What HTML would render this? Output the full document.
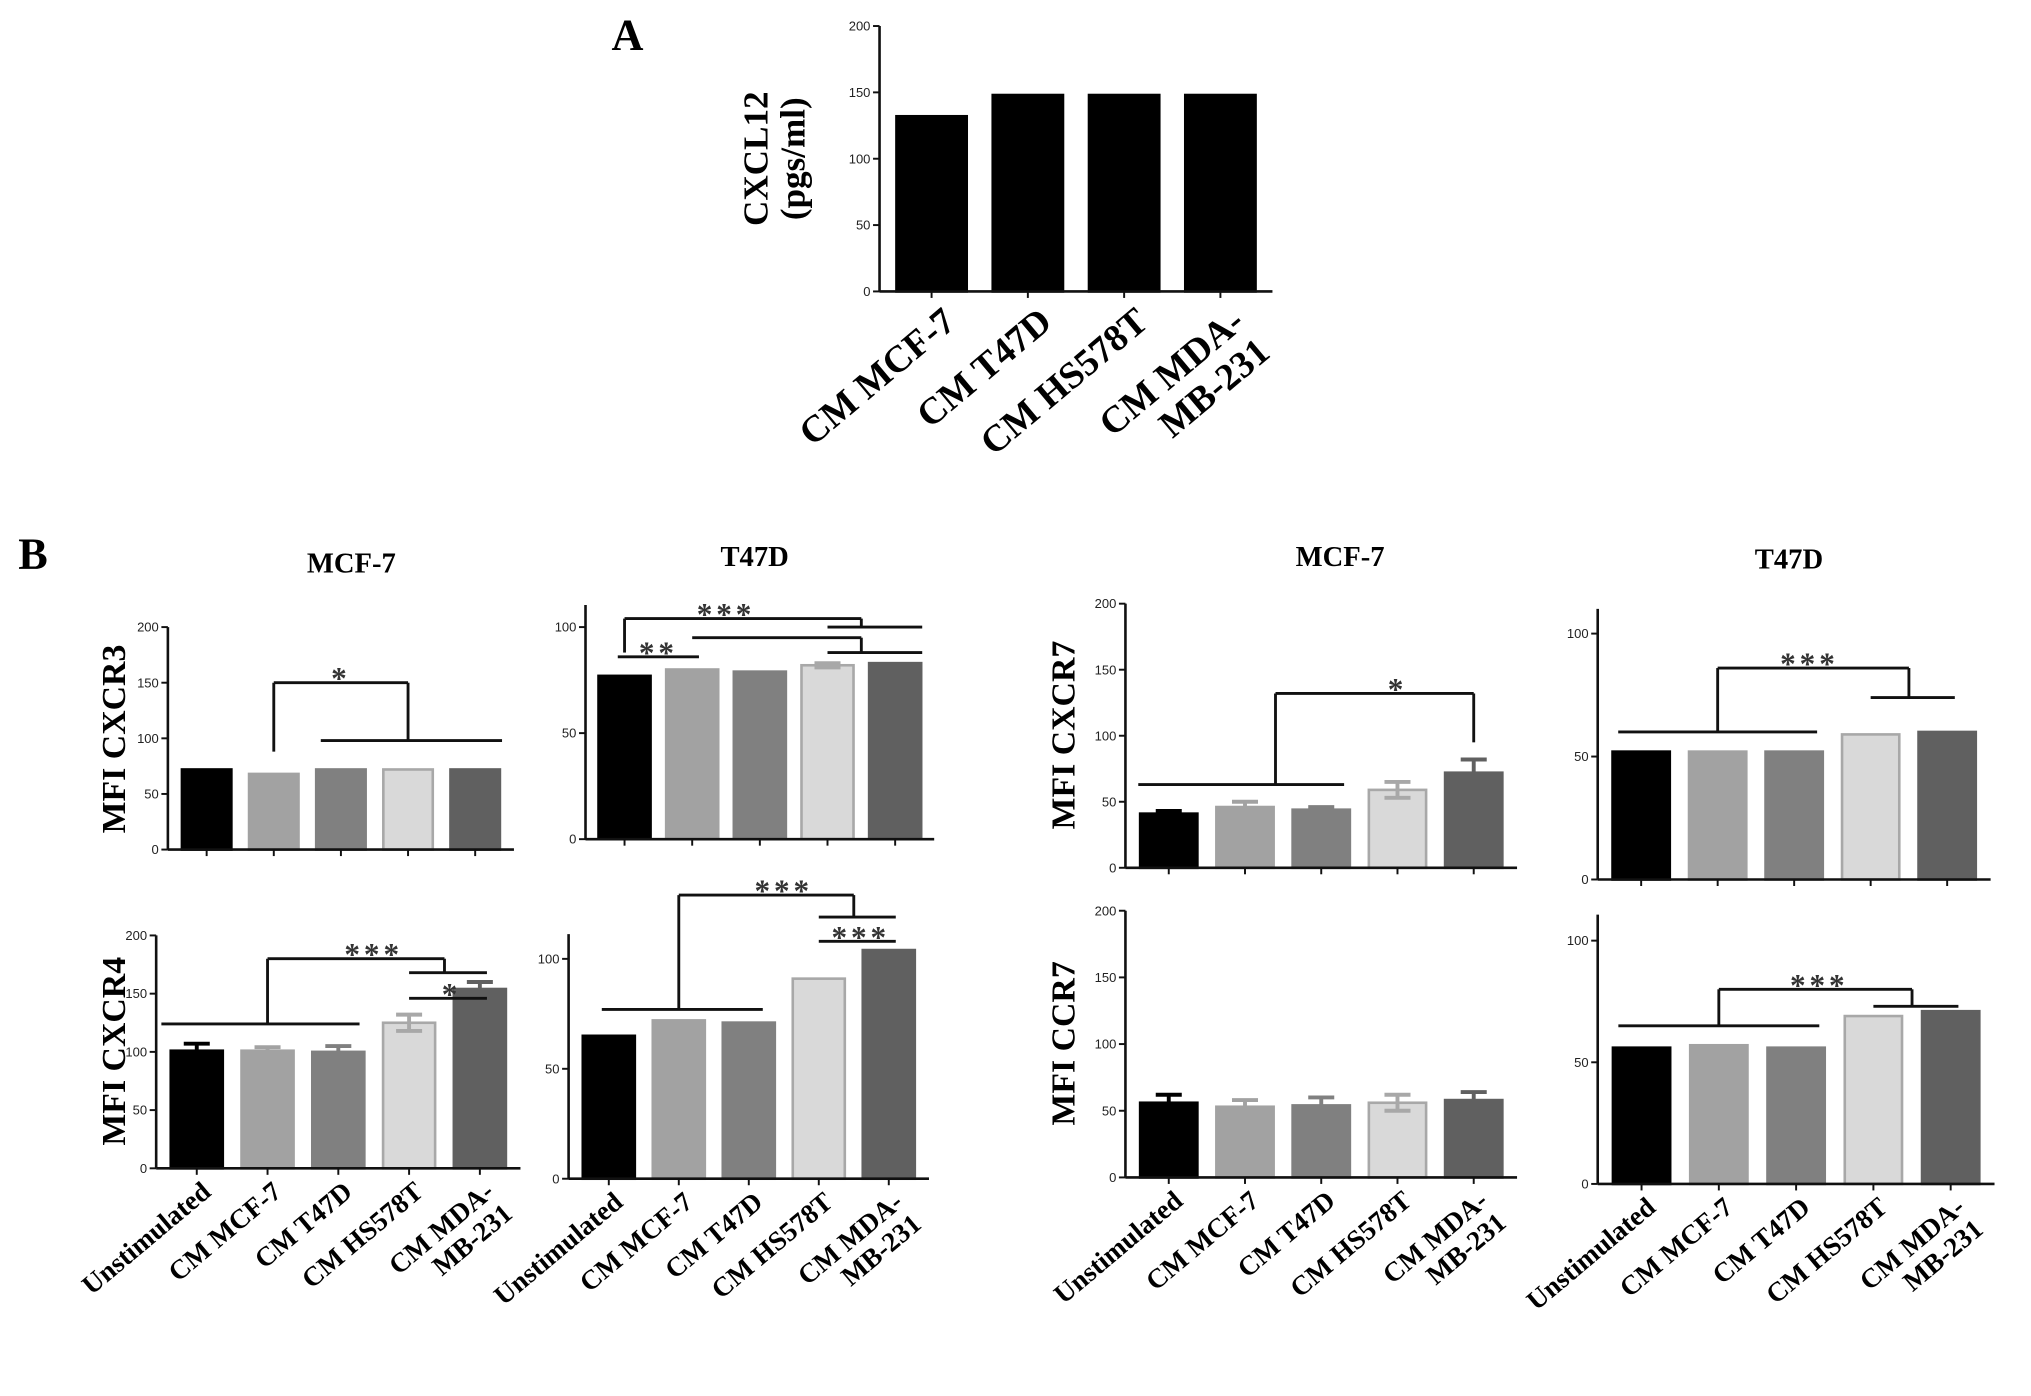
<!DOCTYPE html>
<html><head><meta charset="utf-8"><style>
html,body{margin:0;padding:0;background:#fff;}
svg{display:block;}
text{font-family:"Liberation Serif",serif;font-weight:bold;}
.tk{font-family:"Liberation Sans",sans-serif;font-weight:normal;font-size:10px;fill:#222;}
</style></head><body>
<svg id="fig" width="2031" height="1396" viewBox="0 0 1561 1073" xmlns="http://www.w3.org/2000/svg">
<text x="470" y="38" font-size="34">A</text>
<text x="14" y="437" font-size="34">B</text>
<text x="270" y="440" font-size="22" text-anchor="middle">MCF-7</text>
<text x="580" y="435" font-size="22" text-anchor="middle">T47D</text>
<text x="1030" y="435" font-size="22" text-anchor="middle">MCF-7</text>
<text x="1375" y="437" font-size="22" text-anchor="middle">T47D</text>
</svg>
<script>
const NS="http://www.w3.org/2000/svg";
const svg=document.getElementById('fig');
const groupsA=["CM MCF-7","CM T47D","CM HS578T","CM MDA-|MB-231"];
const valuesA=[132,148,148,148];
const ticksA=[0,50,100,150,200];
const groupsB=["Unstimulated","CM MCF-7","CM T47D","CM HS578T","CM MDA-|MB-231"];
const mcf7Cxcr3=[72,68,72,72,72];
const mcf7Cxcr3Err=[0,0,0,0,0];
const t47dCxcr3=[77,80,79,82,83];
const t47dCxcr3Err=[0,0,0,1,0];
const mcf7Cxcr4=[101,101,100,125,154];
const mcf7Cxcr4Err=[6,3,5,7,6];
const t47dCxcr4=[65,72,71,91,104];
const t47dCxcr4Err=[0,0,0,0,0];
const mcf7Cxcr7=[41,46,44,59,72];
const mcf7Cxcr7Err=[2,4,2,6,10];
const t47dCxcr7=[52,52,52,59,60];
const t47dCxcr7Err=[0,0,0,0,0];
const mcf7Ccr7=[56,53,54,56,58];
const mcf7Ccr7Err=[6,5,6,6,6];
const t47dCcr7=[56,57,56,69,71];
const t47dCcr7Err=[0,0,0,0,0];
const ticks200=[0,50,100,150,200];
const ticks100=[0,50,100];
const fills=["#000","#a2a2a2","#808080","#d9d9d9","#606060"];
const strokes=["#000","#a2a2a2","#808080","#a8a8a8","#606060"];

function el(tag,attrs,parent){const e=document.createElementNS(NS,tag);for(const k in attrs)e.setAttribute(k,attrs[k]);(parent||svg).appendChild(e);return e;}

function panel(p){
  const g=el('g',{});
  
  
  const n=p.values.length;
  const step=(p.xEnd-p.ax-p.pad)/n;
  const xs=i=>p.ax+p.pad*0.5+step*(i+0.5);
  const ys=v=>p.y0-(v/p.vRef)*(p.y0-p.yRef);
  p.values.forEach((v,i)=>{
    const r=el('rect',{x:xs(i)-p.bw/2,y:ys(v),width:p.bw,height:p.y0-ys(v),fill:p.fills?p.fills[i]:'#000',stroke:p.strokes?p.strokes[i]:'#000','stroke-width':2},g);
    
    
    const e=p.errs?p.errs[i]:0;
    if(e>0){
      const c=p.strokes[i];
      el('line',{x1:xs(i),x2:xs(i),y1:ys(v-e),y2:ys(v+e),stroke:c,'stroke-width':3},g);
      el('line',{x1:xs(i)-10,x2:xs(i)+10,y1:ys(v+e),y2:ys(v+e),stroke:c,'stroke-width':3},g);
      if(i==3) el('line',{x1:xs(i)-10,x2:xs(i)+10,y1:ys(v-e),y2:ys(v-e),stroke:c,'stroke-width':3},g);
    }
  });
  const ya=el('line',{x1:p.ax,x2:p.ax,y1:p.y0,y2:p.yTop,stroke:'#111','stroke-width':2},g);
  
  
  const xa=el('line',{x1:p.ax,x2:p.xEnd,y1:p.y0,y2:p.y0,stroke:'#111','stroke-width':2},g);
  
  
  p.ticks.forEach(t=>{
    el('line',{x1:p.ax-5,x2:p.ax,y1:ys(t),y2:ys(t),stroke:'#111','stroke-width':1.5},g);
    const tx=el('text',{x:p.ax-7,y:ys(t)+3.5,'text-anchor':'end',class:'tk'},g);
    tx.textContent=t;
    
    
  });
  p.values.forEach((v,i)=>{el('line',{x1:xs(i),x2:xs(i),y1:p.y0,y2:p.y0+5,stroke:'#111','stroke-width':1.5},g);});
  if(p.labels){
    p.labels.forEach((lab,i)=>{
      const parts=lab.split('|');
      const bx=xs(i)+p.lx, by=p.y0+p.ly;
      const t=el('text',{x:bx,y:by,'text-anchor':'end','font-size':p.lfs,transform:`rotate(-40 ${bx} ${by})`},g);
      
      
      parts.forEach((s,k)=>{const ts=el('tspan',{x:bx,dy:k?p.lfs*1.05:0},t);ts.textContent=s;});
    });
  }
  if(p.ylabel){
    const lines=p.ylabel.split('|');
    lines.forEach((s,k)=>{
      const yx=p.ylx+k*p.yfs*1.05;
      const t=el('text',{x:yx,y:p.yly,'text-anchor':'middle','font-size':p.yfs,transform:`rotate(-90 ${yx} ${p.yly})`},g);
      t.textContent=s;
      
      
    });
  }
  (p.lines||[]).forEach(L=>{
    const l=el('line',{x1:xs(L[0]),y1:ys(L[1]),x2:xs(L[2]),y2:ys(L[3]),stroke:'#111','stroke-width':2.2},g);
    
    
  });
  (p.stars||[]).forEach(S=>{
    const t=el('text',{x:xs(S[0]),y:ys(S[1])+5,'text-anchor':'middle','font-size':24,fill:'#333','letter-spacing':3},g);
    t.textContent=S[2];
    
    
  });
}

panel({name:'panel-a-cxcl12',values:valuesA,ax:676,xEnd:978,pad:6,bw:54,y0:224,yRef:20,vRef:200,yTop:20,ticks:ticksA,labels:groupsA,lx:20,ly:26,lfs:29,ylabel:'CXCL12|(pgs/ml)',ylx:590,yly:122,yfs:27});

const base={pad:8,labels:null,fills:fills,strokes:strokes};
panel(Object.assign({},base,{name:'panel-mcf7-cxcr3',values:mcf7Cxcr3,errs:mcf7Cxcr3Err,ax:129,xEnd:395,bw:38,y0:653,yRef:482,vRef:200,yTop:482,ticks:ticks200,ylabel:'MFI CXCR3',ylx:96,yly:568,yfs:26,
 lines:[[1,88,1,150],[1,150,3,150],[3,150,3,98],[1.7,98,4.4,98]],stars:[[2,150,'*']]}));
panel(Object.assign({},base,{name:'panel-t47d-cxcr3',values:t47dCxcr3,errs:t47dCxcr3Err,ax:450,xEnd:718,bw:40,y0:645,yRef:482,vRef:100,yTop:465,ticks:ticks100,
 lines:[[0,88,0,104],[0,104,3.5,104],[3.5,104,3.5,100],[3,100,4.4,100],[1,95,3.5,95],[3.5,95,3.5,88],[3,88,4.4,88],[-0.1,86,1.1,86]],stars:[[1.5,104,'***'],[0.5,86,'**']]}));
panel(Object.assign({},base,{name:'panel-mcf7-cxcr4',values:mcf7Cxcr4,errs:mcf7Cxcr4Err,ax:120,xEnd:400,bw:40,y0:898,yRef:719,vRef:200,yTop:719,ticks:ticks200,labels:groupsB,lx:12,ly:20,lfs:21,ylabel:'MFI CXCR4',ylx:96,yly:808,yfs:26,
 lines:[[1,124,1,180],[1,180,3.5,180],[3.5,180,3.5,168],[3,168,4.1,168],[3,146,4.1,146],[-0.5,124,2.3,124]],stars:[[2.5,180,'***'],[3.6,146,'*']]}));
panel(Object.assign({},base,{name:'panel-t47d-cxcr4',values:t47dCxcr4,errs:t47dCxcr4Err,ax:437,xEnd:714,bw:40,y0:906,yRef:737,vRef:100,yTop:718,ticks:ticks100,labels:groupsB,lx:12,ly:20,lfs:21,
 lines:[[1,77,1,129],[1,129,3.5,129],[3.5,129,3.5,119],[3,119,4.1,119],[3,108,4.1,108],[-0.1,77,2.2,77]],stars:[[2.5,129,'***'],[3.6,108,'***']]}));
panel(Object.assign({},base,{name:'panel-mcf7-cxcr7',values:mcf7Cxcr7,errs:mcf7Cxcr7Err,ax:865,xEnd:1166,bw:44,y0:667,yRef:464,vRef:200,yTop:464,ticks:ticks200,ylabel:'MFI CXCR7',ylx:826,yly:565,yfs:26,
 lines:[[1.4,63,1.4,132],[1.4,132,4,132],[4,132,4,95],[-0.4,63,2.3,63]],stars:[[3,132,'*']]}));
panel(Object.assign({},base,{name:'panel-t47d-cxcr7',values:t47dCxcr7,errs:t47dCxcr7Err,ax:1228,xEnd:1530,bw:44,y0:676,yRef:487,vRef:100,yTop:468,ticks:ticks100,
 lines:[[1,60,1,86],[1,86,3.5,86],[3.5,86,3.5,74],[3,74,4.1,74],[-0.3,60,2.3,60]],stars:[[2.2,86,'***']]}));
panel(Object.assign({},base,{name:'panel-mcf7-ccr7',values:mcf7Ccr7,errs:mcf7Ccr7Err,ax:865,xEnd:1166,bw:44,y0:905,yRef:700,vRef:200,yTop:700,ticks:ticks200,labels:groupsB,lx:12,ly:20,lfs:21,ylabel:'MFI CCR7',ylx:826,yly:802,yfs:26}));
panel(Object.assign({},base,{name:'panel-t47d-ccr7',values:t47dCcr7,errs:t47dCcr7Err,ax:1228,xEnd:1533,bw:44,y0:910,yRef:723,vRef:100,yTop:703,ticks:ticks100,labels:groupsB,lx:12,ly:20,lfs:21,
 lines:[[1,65,1,80],[1,80,3.5,80],[3.5,80,3.5,73],[3,73,4.1,73],[-0.3,65,2.3,65]],stars:[[2.3,80,'***']]}));
</script>
</body></html>
